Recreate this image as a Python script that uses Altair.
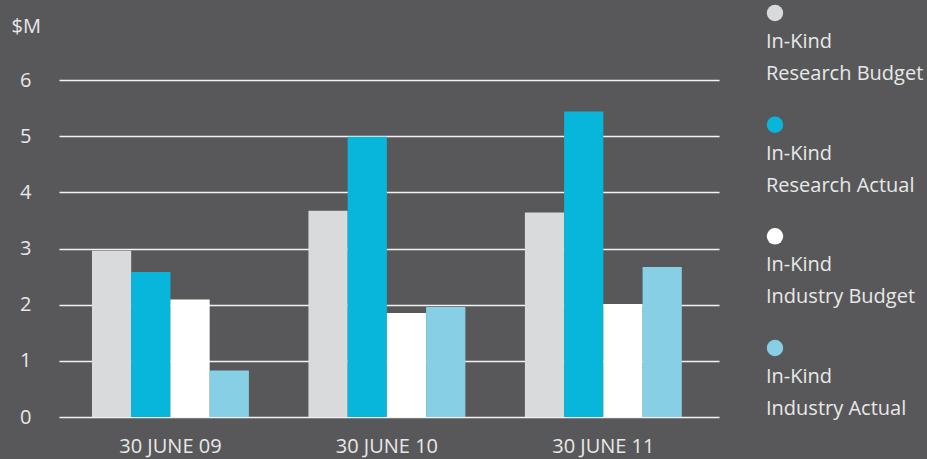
import altair as alt
import pandas as pd

categories = ["30 JUNE 09", "30 JUNE 10", "30 JUNE 11"]
series = ["Research Budget", "Research Actual", "Industry Budget", "Industry Actual"]
research_budget = [2.96, 3.67, 3.64]
research_actual = [2.58, 4.99, 5.44]
industry_budget = [2.09, 1.85, 2.01]
industry_actual = [0.83, 1.96, 2.67]
colors = ["#d9dadc", "#08b6db", "#ffffff", "#86cfe5"]
y_ticks = [0, 1, 2, 3, 4, 5, 6]

FONT = "Open Sans"
TXT = "#e8e8e8"
BG = "#58585a"
FS = 20

vals = [research_budget, research_actual, industry_budget, industry_actual]
rows = []
for s, v in zip(series, vals):
    for c, x in zip(categories, v):
        rows.append({"cat": c, "series": s, "value": x})
df = pd.DataFrame(rows)

leg = pd.DataFrame({
    "series": series,
    "idx": list(range(len(series))),
    "line1": ["In-Kind"] * 4,
    "line2": series,
})

color = alt.Color("series:N", scale=alt.Scale(domain=series, range=colors), legend=None)

bars = alt.Chart(df).mark_bar().encode(
    x=alt.X("cat:N", sort=categories,
            scale=alt.Scale(paddingInner=0.275, paddingOuter=0.162, align=0.47),
            axis=alt.Axis(title=None, labelAngle=0, labelPadding=19, ticks=False,
                          domain=False, grid=False, labelFontSize=FS, labelColor=TXT,
                          labelFont=FONT)),
    xOffset=alt.XOffset("series:N", sort=series, scale=alt.Scale(paddingInner=0, paddingOuter=0)),
    y=alt.Y("value:Q", scale=alt.Scale(domain=[0, 6], nice=False),
            axis=alt.Axis(values=y_ticks, title="$M", titleAngle=0, titleAlign="left",
                          titleBaseline="alphabetic", titleX=-48, titleY=-48,
                          titleFontSize=FS, titleFontWeight="normal", titleColor=TXT,
                          titleFont=FONT, ticks=False, domain=False, labelPadding=28,
                          labelFontSize=FS, labelColor=TXT, labelFont=FONT,
                          gridColor="#f2f2f2", gridWidth=1.6, gridOpacity=1)),
    color=color,
)

ly = alt.Y("idx:Q", scale=alt.Scale(domain=[0, 3], range=[-67, 268]), axis=None)

leg_pts = alt.Chart(leg).mark_point(filled=True, size=270, opacity=1, clip=False).encode(
    x=alt.value(716), y=ly, color=color)
leg_t1 = alt.Chart(leg).mark_text(align="left", baseline="alphabetic", dy=35, fontSize=FS,
                                  font=FONT, color=TXT).encode(
    x=alt.value(707), y=ly, text="line1:N")
leg_t2 = alt.Chart(leg).mark_text(align="left", baseline="alphabetic", dy=67, fontSize=FS,
                                  font=FONT, color=TXT).encode(
    x=alt.value(707), y=ly, text="line2:N")

chart = alt.layer(bars, leg_pts, leg_t1, leg_t2).resolve_scale(y="independent").properties(
    width=660, height=337,
    autosize=alt.AutoSizeParams(type="none"),
    padding={"left": 59, "top": 80, "right": 208, "bottom": 42},
    background=BG,
).configure_view(stroke=None)

chart.save("out.html", embed_options={"renderer": "svg", "actions": False})
